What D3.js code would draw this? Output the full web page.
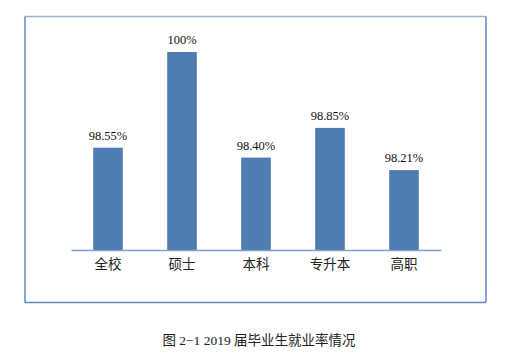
<!DOCTYPE html>
<html><head><meta charset="utf-8">
<script src="https://cdn.jsdelivr.net/npm/d3@7"></script>
<style>body{margin:0;background:#fff}svg{display:block}
.serif{font-family:"Liberation Serif","Times New Roman",serif}
.cjk{font-family:"Noto Sans CJK SC",sans-serif}
.cap{font-family:"Liberation Serif","Noto Sans CJK SC",serif}
</style>
</head><body>
<script>
const categories = ["全校", "硕士", "本科", "专升本", "高职"];
const values = [98.55, 100, 98.40, 98.85, 98.21];
const valueLabels = ["98.55%", "100%", "98.40%", "98.85%", "98.21%"];
const caption = "图 2−1 2019 届毕业生就业率情况";

const W = 527, H = 359;
const svg = d3.select("body").append("svg").attr("width", W).attr("height", H);

// frame
const fx0 = 25, fy0 = 16.5, fx1 = 486, fy1 = 302.5;
svg.append("line").attr("x1", fx0).attr("y1", fy0).attr("x2", fx1).attr("y2", fy0)
  .attr("stroke", "#9cb4d3").attr("stroke-width", 1.5);
svg.append("line").attr("x1", fx0).attr("y1", fy0).attr("x2", fx0).attr("y2", fy1)
  .attr("stroke", "#5e89c0").attr("stroke-width", 1.5);
svg.append("line").attr("x1", fx1).attr("y1", fy0).attr("x2", fx1).attr("y2", fy1)
  .attr("stroke", "#5e89c0").attr("stroke-width", 1.5);
svg.append("line").attr("x1", fx0).attr("y1", fy1).attr("x2", fx1).attr("y2", fy1)
  .attr("stroke", "#5e89c0").attr("stroke-width", 1.5);

const x = d3.scaleBand().domain(categories).range([71, 441]).paddingInner(0.6).paddingOuter(0.3);
const y = d3.scaleLinear().domain([97, 100]).range([250, 52]);

svg.selectAll("rect.bar").data(values).enter().append("rect")
  .attr("class", "bar")
  .attr("x", (d, i) => x(categories[i]))
  .attr("width", x.bandwidth())
  .attr("y", d => y(d))
  .attr("height", d => y(97) - y(d))
  .attr("fill", "#4f7db2");

// axis
const axis = svg.append("g").attr("transform", "translate(0,250)")
  .call(d3.axisBottom(x).tickSize(0).tickPadding(9));
axis.select(".domain").attr("stroke", "#7ca1cd").attr("stroke-width", 1.3);
axis.attr("font-family", null);
axis.selectAll("text").attr("class", "cjk")
  .attr("font-size", 13.5).attr("fill", "#222");

svg.selectAll("text.val").data(values).enter().append("text")
  .attr("class", "val serif")
  .attr("x", (d, i) => x(categories[i]) + x.bandwidth() / 2)
  .attr("y", d => y(d) - 8)
  .attr("text-anchor", "middle")
  .attr("font-size", 12.5)
  .attr("fill", "#111")
  .text((d, i) => valueLabels[i]);

svg.append("text").attr("class", "cap").attr("x", 259).attr("y", 345)
  .attr("text-anchor", "middle")
  .attr("font-size", 13.5).attr("fill", "#222")
  .text(caption);
</script>
</body></html>
